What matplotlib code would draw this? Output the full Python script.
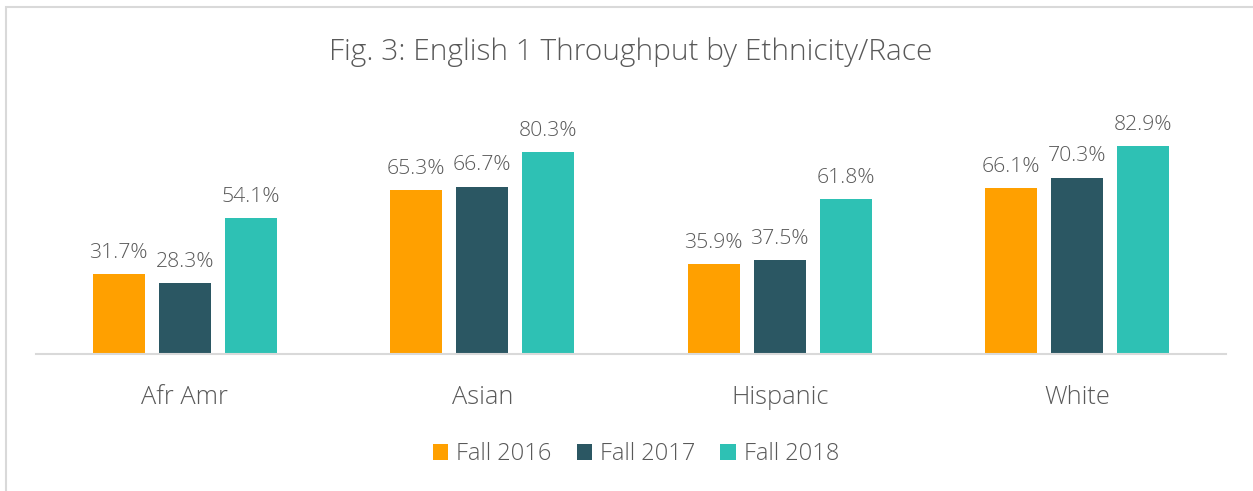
import matplotlib
matplotlib.use("Agg")
import matplotlib.pyplot as plt
from matplotlib.patches import Rectangle
import numpy as np

categories = ["Afr Amr", "Asian", "Hispanic", "White"]
series_names = ["Fall 2016", "Fall 2017", "Fall 2018"]
fall_2016 = [31.7, 65.3, 35.9, 66.1]
fall_2017 = [28.3, 66.7, 37.5, 70.3]
fall_2018 = [54.1, 80.3, 61.8, 82.9]
colors = ["#FFA000", "#2B5763", "#2EC1B4"]
title = "Fig. 3: English 1 Throughput by Ethnicity/Race"

plt.rcParams['font.family'] = ['Open Sans', 'DejaVu Sans']
W, H = 1253, 491
fig = plt.figure(figsize=(W/100, H/100), dpi=100)
fig.patch.set_facecolor("white")

# outer border (top and left visible)
fig.patches.append(Rectangle((6/W, -0.1), 1.2, (H-7)/H + 0.1, transform=fig.transFigure,
                             fill=False, edgecolor="#D9D9D9", linewidth=1.5))

ax = fig.add_axes([36/W, (H-354)/H, 1190/W, 254/H])
x = np.arange(len(categories))
bw = 0.175
step = 0.222
text_color = "#595959"
for i, (vals, name) in enumerate(zip([fall_2016, fall_2017, fall_2018], series_names)):
    pos = x + (i - 1) * step
    bars = ax.bar(pos, vals, width=bw, color=colors[i], label=name, zorder=2)
    for b, v in zip(bars, vals):
        ax.annotate(f"{v:.1f}%", (b.get_x() + b.get_width()/2, v), xytext=(0, 8),
                    textcoords="offset points", ha="center", va="bottom",
                    fontsize=15.3, color=text_color, fontweight="light")

ax.set_xlim(-0.5, len(categories) - 0.5)
ax.set_ylim(0, 101.2)
ax.set_yticks([])
ax.set_xticks(x)
ax.set_xticklabels(categories, fontsize=18.3, color=text_color, fontweight="light")
ax.tick_params(axis="x", length=0, pad=22)
for s in ["top", "right", "left"]:
    ax.spines[s].set_visible(False)
ax.spines["bottom"].set_color("#D9D9D9")
ax.spines["bottom"].set_linewidth(1.5)
ax.set_facecolor("none")

fig.text(631/W, 1 - 52/H, title, ha="center", va="center", fontsize=21.5,
         color=text_color, fontweight="light")

leg = fig.legend(loc="center", bbox_to_anchor=(636/W, 1 - 454/H), ncol=3, frameon=False,
                 fontsize=17, handlelength=0.65, handleheight=0.65, handletextpad=0.35,
                 columnspacing=1.05)
for t in leg.get_texts():
    t.set_color(text_color)
    t.set_fontweight("light")

fig.savefig("out.png", dpi=100)
